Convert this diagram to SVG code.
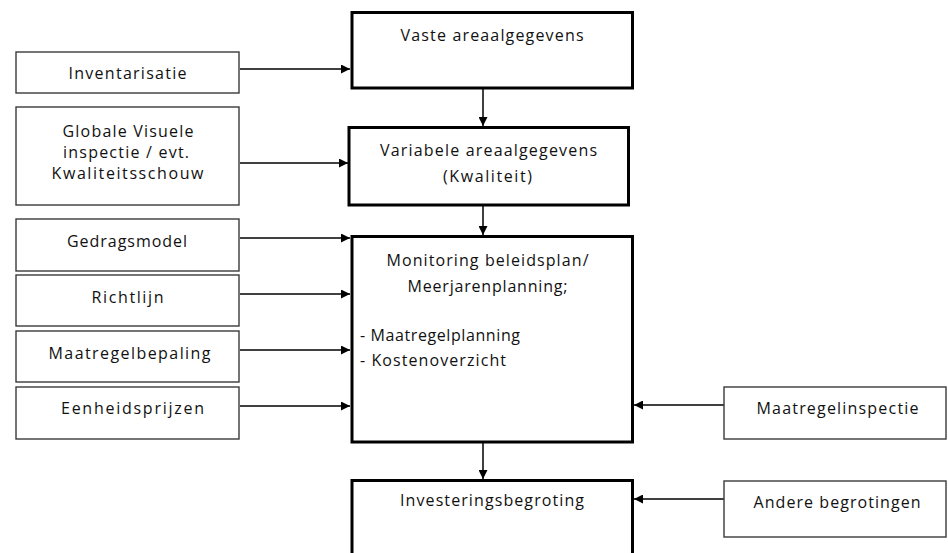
<svg xmlns="http://www.w3.org/2000/svg" width="948" height="553" viewBox="0 0 948 553">
<style>
  .thin { fill: #ffffff; stroke: #3a3a3a; stroke-width: 1.4; }
  .thick { fill: #ffffff; stroke: #000000; stroke-width: 3; }
  .t { font-family: "Open Sans", "Noto Sans", "DejaVu Sans", sans-serif; font-size: 16px; fill: #111111; text-anchor: middle; }
  .tl { text-anchor: start; }
  .conn { stroke: #000000; stroke-width: 1.5; fill: none; marker-end: url(#ah); }
</style>
<defs>
  <marker id="ah" viewBox="0 0 10 10" refX="10" refY="5" markerWidth="9" markerHeight="9" markerUnits="userSpaceOnUse" orient="auto">
    <path d="M0,0 L10,5 L0,10 Z" fill="#000000"/>
  </marker>
</defs>
<rect width="948" height="553" fill="#ffffff"/>

<g id="connectors">
  <line class="conn" x1="240" y1="69" x2="350" y2="69"/>
  <line class="conn" x1="240" y1="163" x2="348" y2="163"/>
  <line class="conn" x1="240" y1="238" x2="350" y2="238"/>
  <line class="conn" x1="240" y1="294" x2="350" y2="294"/>
  <line class="conn" x1="240" y1="350" x2="350" y2="350"/>
  <line class="conn" x1="240" y1="406" x2="350" y2="406"/>
  <line class="conn" x1="724" y1="405" x2="634" y2="405"/>
  <line class="conn" x1="724" y1="499" x2="634" y2="499"/>
  <line class="conn" x1="483" y1="89" x2="483" y2="126"/>
  <line class="conn" x1="483" y1="206" x2="483" y2="235"/>
  <line class="conn" x1="483" y1="443" x2="483" y2="479"/>
</g>

<g id="vaste">
  <rect class="thick" x="352" y="12.5" width="280.5" height="75.5"/>
  <text class="t" x="492" y="41" textLength="183" lengthAdjust="spacing">Vaste areaalgegevens</text>
</g>
<g id="variabele">
  <rect class="thick" x="349" y="127.5" width="279.5" height="77.5"/>
  <text class="t" x="488.5" y="156" textLength="217" lengthAdjust="spacing">Variabele areaalgegevens</text>
  <text class="t" x="487.5" y="182" textLength="89" lengthAdjust="spacing">(Kwaliteit)</text>
</g>
<g id="monitoring">
  <rect class="thick" x="352" y="236.5" width="280.5" height="205.5"/>
  <text class="t" x="487.5" y="266" textLength="202" lengthAdjust="spacing">Monitoring beleidsplan/</text>
  <text class="t" x="487.5" y="292" textLength="160" lengthAdjust="spacing">Meerjarenplanning;</text>
  <text class="t tl" x="360" y="341" textLength="160" lengthAdjust="spacing">- Maatregelplanning</text>
  <text class="t tl" x="360" y="366" textLength="146" lengthAdjust="spacing">- Kostenoverzicht</text>
</g>
<g id="investering">
  <rect class="thick" x="352" y="480.5" width="280.5" height="80"/>
  <text class="t" x="492" y="506" textLength="184" lengthAdjust="spacing">Investeringsbegroting</text>
</g>

<g id="inventarisatie">
  <rect class="thin" x="16" y="52" width="223" height="41"/>
  <text class="t" x="127.5" y="79" textLength="118" lengthAdjust="spacing">Inventarisatie</text>
</g>
<g id="globale">
  <rect class="thin" x="16" y="107" width="223" height="98"/>
  <text class="t" x="128" y="137" textLength="131" lengthAdjust="spacing">Globale Visuele</text>
  <text class="t" x="126" y="158" textLength="126" lengthAdjust="spacing">inspectie / evt.</text>
  <text class="t" x="127.5" y="179" textLength="152" lengthAdjust="spacing">Kwaliteitsschouw</text>
</g>
<g id="gedragsmodel">
  <rect class="thin" x="16" y="219" width="223" height="52"/>
  <text class="t" x="127" y="247" textLength="120" lengthAdjust="spacing">Gedragsmodel</text>
</g>
<g id="richtlijn">
  <rect class="thin" x="16" y="275" width="223" height="51"/>
  <text class="t" x="127.5" y="303" textLength="72" lengthAdjust="spacing">Richtlijn</text>
</g>
<g id="maatregelbepaling">
  <rect class="thin" x="16" y="331" width="223" height="51"/>
  <text class="t" x="129.5" y="359" textLength="162" lengthAdjust="spacing">Maatregelbepaling</text>
</g>
<g id="eenheidsprijzen">
  <rect class="thin" x="16" y="387" width="223" height="52"/>
  <text class="t" x="132.5" y="414" textLength="143" lengthAdjust="spacing">Eenheidsprijzen</text>
</g>
<g id="maatregelinspectie">
  <rect class="thin" x="724" y="387" width="222" height="52"/>
  <text class="t" x="837.5" y="414" textLength="162" lengthAdjust="spacing">Maatregelinspectie</text>
</g>
<g id="andere">
  <rect class="thin" x="724" y="481" width="222" height="56"/>
  <text class="t" x="837" y="508" textLength="167" lengthAdjust="spacing">Andere begrotingen</text>
</g>
</svg>
